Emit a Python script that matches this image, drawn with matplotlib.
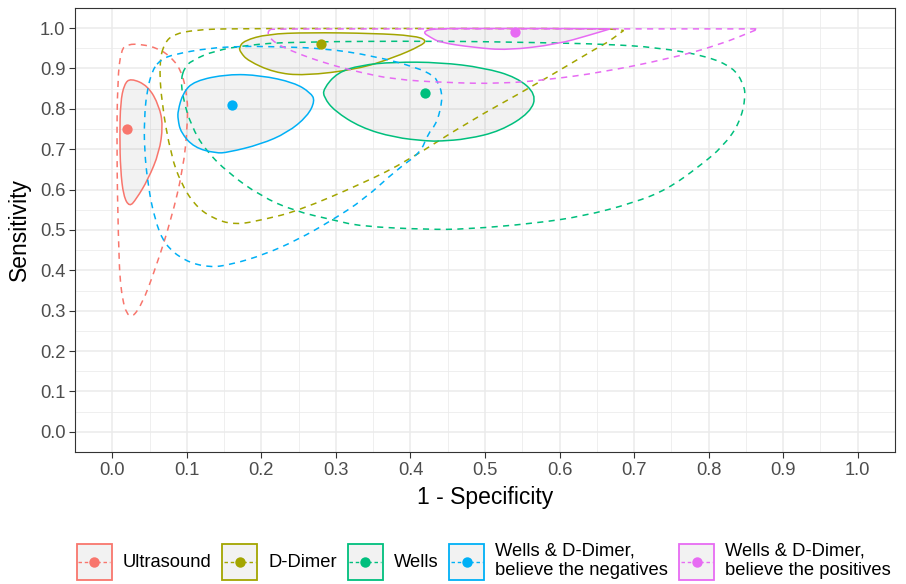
import numpy as np
import matplotlib
matplotlib.use('Agg')
from matplotlib import pyplot as plt
from matplotlib.patches import Patch, PathPatch, Rectangle
from matplotlib.path import Path
from matplotlib.lines import Line2D

plt.rcParams['font.family'] = ['Liberation Sans', 'DejaVu Sans']

# tests and their summary points (1 - specificity, sensitivity)
tests = ['Ultrasound', 'D-Dimer', 'Wells',
         'Wells & D-Dimer,\nbelieve the negatives',
         'Wells & D-Dimer,\nbelieve the positives']
colours = ['#F8766D', '#A3A500', '#00BF7D', '#00B0F6', '#E76BF3']
fpr = [0.02, 0.28, 0.42, 0.16, 0.54]
sens = [0.75, 0.96, 0.84, 0.81, 0.99]

# confidence regions (solid)
us_conf_x = [0.0245, 0.048, 0.063, 0.068, 0.063, 0.048, 0.032, 0.023, 0.015, 0.011, 0.010, 0.011, 0.016]
us_conf_y = [0.876, 0.857, 0.807, 0.758, 0.692, 0.625, 0.576, 0.557, 0.584, 0.650, 0.733, 0.816, 0.861]
dd_conf_x = [0.170, 0.177, 0.208, 0.262, 0.351, 0.405, 0.422, 0.414, 0.378, 0.329, 0.257, 0.217, 0.182, 0.172]
dd_conf_y = [0.952, 0.969, 0.985, 0.989, 0.987, 0.981, 0.970, 0.956, 0.927, 0.898, 0.882, 0.890, 0.919, 0.940]
we_conf_x = [0.283, 0.302, 0.333, 0.378, 0.440, 0.498, 0.543, 0.569, 0.561, 0.521, 0.476, 0.440, 0.423, 0.378, 0.333, 0.298, 0.284]
we_conf_y = [0.849, 0.890, 0.908, 0.916, 0.915, 0.902, 0.878, 0.836, 0.791, 0.745, 0.725, 0.720, 0.720, 0.729, 0.754, 0.795, 0.828]
neg_conf_x = [0.088, 0.095, 0.110, 0.155, 0.199, 0.244, 0.266, 0.272, 0.262, 0.235, 0.199, 0.155, 0.139, 0.110, 0.092, 0.088]
neg_conf_y = [0.795, 0.840, 0.869, 0.886, 0.883, 0.865, 0.840, 0.820, 0.782, 0.741, 0.712, 0.692, 0.690, 0.704, 0.741, 0.774]
pos_conf_x = [0.416, 0.430, 0.500, 0.600, 0.668, 0.641, 0.597, 0.530, 0.485, 0.440, 0.427]
pos_conf_y = [0.990, 0.999, 0.999, 0.999, 0.998, 0.983, 0.960, 0.945, 0.952, 0.964, 0.977]

# prediction regions (dashed)
us_pred_x = [0.021, 0.012, 0.007, 0.006, 0.008, 0.011, 0.022, 0.039, 0.059, 0.079, 0.095, 0.101, 0.101, 0.092, 0.077, 0.061, 0.039]
us_pred_y = [0.960, 0.948, 0.873, 0.692, 0.485, 0.345, 0.275, 0.311, 0.410, 0.526, 0.650, 0.758, 0.832, 0.898, 0.931, 0.950, 0.960]
dd_pred_x = [0.070, 0.083, 0.110, 0.155, 0.400, 0.668, 0.686, 0.664, 0.655, 0.565, 0.476, 0.396, 0.338, 0.249, 0.204, 0.164, 0.133, 0.110, 0.092, 0.079, 0.066, 0.063]
dd_pred_y = [0.964, 0.985, 0.995, 0.999, 0.999, 0.999, 0.994, 0.964, 0.956, 0.857, 0.766, 0.671, 0.617, 0.547, 0.526, 0.512, 0.530, 0.563, 0.617, 0.683, 0.816, 0.915]
we_pred_x = [0.097, 0.106, 0.137, 0.182, 0.240, 0.440, 0.574, 0.664, 0.731, 0.797, 0.833, 0.846, 0.850, 0.842, 0.820, 0.788, 0.744, 0.699, 0.632, 0.565, 0.476, 0.423, 0.333, 0.298, 0.244, 0.199, 0.155, 0.124, 0.106, 0.095, 0.092]
we_pred_y = [0.902, 0.919, 0.944, 0.958, 0.966, 0.968, 0.964, 0.960, 0.952, 0.931, 0.902, 0.865, 0.832, 0.766, 0.708, 0.658, 0.600, 0.567, 0.534, 0.516, 0.502, 0.501, 0.509, 0.524, 0.547, 0.584, 0.642, 0.700, 0.758, 0.824, 0.873]
neg_pred_x = [0.066, 0.083, 0.128, 0.173, 0.217, 0.284, 0.351, 0.409, 0.431, 0.436, 0.444, 0.436, 0.423, 0.414, 0.382, 0.338, 0.293, 0.249, 0.204, 0.159, 0.130, 0.097, 0.070, 0.057, 0.048, 0.043, 0.043, 0.046, 0.054]
neg_pred_y = [0.923, 0.935, 0.950, 0.955, 0.954, 0.950, 0.931, 0.902, 0.882, 0.869, 0.832, 0.766, 0.737, 0.692, 0.650, 0.576, 0.522, 0.476, 0.439, 0.414, 0.407, 0.423, 0.464, 0.526, 0.609, 0.700, 0.774, 0.840, 0.898]
pos_pred_x = [0.211, 0.208, 0.217, 0.244, 0.289, 0.333, 0.378, 0.445, 0.521, 0.588, 0.655, 0.744, 0.811, 0.867, 0.600, 0.400, 0.215]
pos_pred_y = [0.996, 0.986, 0.964, 0.940, 0.911, 0.890, 0.873, 0.865, 0.862, 0.873, 0.890, 0.923, 0.956, 0.998, 0.998, 0.998, 0.998]

conf_x = [us_conf_x, dd_conf_x, we_conf_x, neg_conf_x, pos_conf_x]
conf_y = [us_conf_y, dd_conf_y, we_conf_y, neg_conf_y, pos_conf_y]
pred_x = [us_pred_x, dd_pred_x, we_pred_x, neg_pred_x, pos_pred_x]
pred_y = [us_pred_y, dd_pred_y, we_pred_y, neg_pred_y, pos_pred_y]
# pointed tips (index in the outline) that should stay sharp
conf_tips = [[], [], [], [], [4]]
pred_tips = [[], [6], [], [], [13]]

ticks = np.round(np.arange(0, 1.01, 0.1), 1)


def outline(xs, ys, tips):
    # closed path through the midpoints, read points used as quadratic controls
    pts = np.column_stack([xs, ys])
    n = len(pts)
    verts = [(pts[-1] + pts[0]) / 2]
    codes = [Path.MOVETO]
    for i in range(n):
        mid = (pts[i] + pts[(i + 1) % n]) / 2
        verts += [pts[i], mid]
        if i in tips:
            codes += [Path.LINETO, Path.LINETO]
        else:
            codes += [Path.CURVE3, Path.CURVE3]
    return Path(verts, codes)


class KeyHandler:
    # grey box with coloured border, dashed line and dot in the middle
    def legend_artist(self, legend, orig_handle, fontsize, handlebox):
        c = orig_handle.get_edgecolor()
        x0, y0 = -handlebox.xdescent, -handlebox.ydescent
        w, h = handlebox.width, handlebox.height
        tr = handlebox.get_transform()
        box = Rectangle((x0, y0), w, h, facecolor='#f2f2f2', edgecolor=c,
                        lw=1.3, transform=tr)
        cy = y0 + h / 2
        ln = Line2D([x0 + 1, x0 + w - 1], [cy, cy], color=c, lw=1.0,
                    dashes=(2.5, 2), transform=tr)
        dot = Line2D([x0 + w / 2], [cy], marker='o', markersize=7.5, color=c,
                     markeredgewidth=0, transform=tr)
        handlebox.add_artist(box)
        handlebox.add_artist(ln)
        handlebox.add_artist(dot)
        return box


fig = plt.figure(figsize=(9.06, 5.84), dpi=100)
ax = fig.add_axes([0.0828, 0.226, 0.905, 0.7605])

dash = (4, 3.5)
for i in range(len(tests)):
    p = outline(conf_x[i], conf_y[i], conf_tips[i])
    ax.add_patch(PathPatch(p, facecolor='grey', alpha=0.1, lw=0, zorder=2))
    ax.add_patch(PathPatch(p, facecolor='none', edgecolor=colours[i], lw=1.1, zorder=3))
    q = outline(pred_x[i], pred_y[i], pred_tips[i])
    ax.add_patch(PathPatch(q, facecolor='none', edgecolor=colours[i], lw=1.1,
                           linestyle=(0, dash), zorder=3))
for i in range(len(tests)):
    ax.scatter(fpr[i], sens[i], s=55, color=colours[i], lw=0, zorder=4)

ax.set_xlim(-0.05, 1.05)
ax.set_ylim(-0.05, 1.05)
ax.set_xticks(ticks)
ax.set_yticks(ticks)
ax.set_xticklabels([f'{t:.1f}' for t in ticks])
ax.set_yticklabels([f'{t:.1f}' for t in ticks])
ax.set_xticks(np.arange(-0.05, 1.06, 0.1), minor=True)
ax.set_yticks(np.arange(-0.05, 1.06, 0.1), minor=True)
ax.grid(which='major', color='#ebebeb', lw=1.1, zorder=0)
ax.grid(which='minor', color='#ebebeb', lw=0.55, zorder=0)
ax.set_axisbelow(True)
ax.tick_params(which='major', length=4, width=0.8, color='#333333',
               labelsize=13.2, labelcolor='#4d4d4d', pad=3)
ax.tick_params(which='minor', length=0)
for s in ax.spines.values():
    s.set_color('#333333')
    s.set_linewidth(0.8)
ax.set_xlabel('1 - Specificity', fontsize=16.5, labelpad=5)
ax.set_ylabel('Sensitivity', fontsize=16.5, labelpad=6)

handles = [Patch(edgecolor=c) for c in colours]
fig.legend(handles, tests, loc='center', bbox_to_anchor=(0.534, 0.0394), ncol=5,
           frameon=False, fontsize=13.2, handlelength=1.9, handleheight=2.64,
           columnspacing=0.6, handletextpad=0.6, labelspacing=0,
           borderpad=0, borderaxespad=0, handler_map={Patch: KeyHandler()})

fig.savefig('out.png', dpi=100)
